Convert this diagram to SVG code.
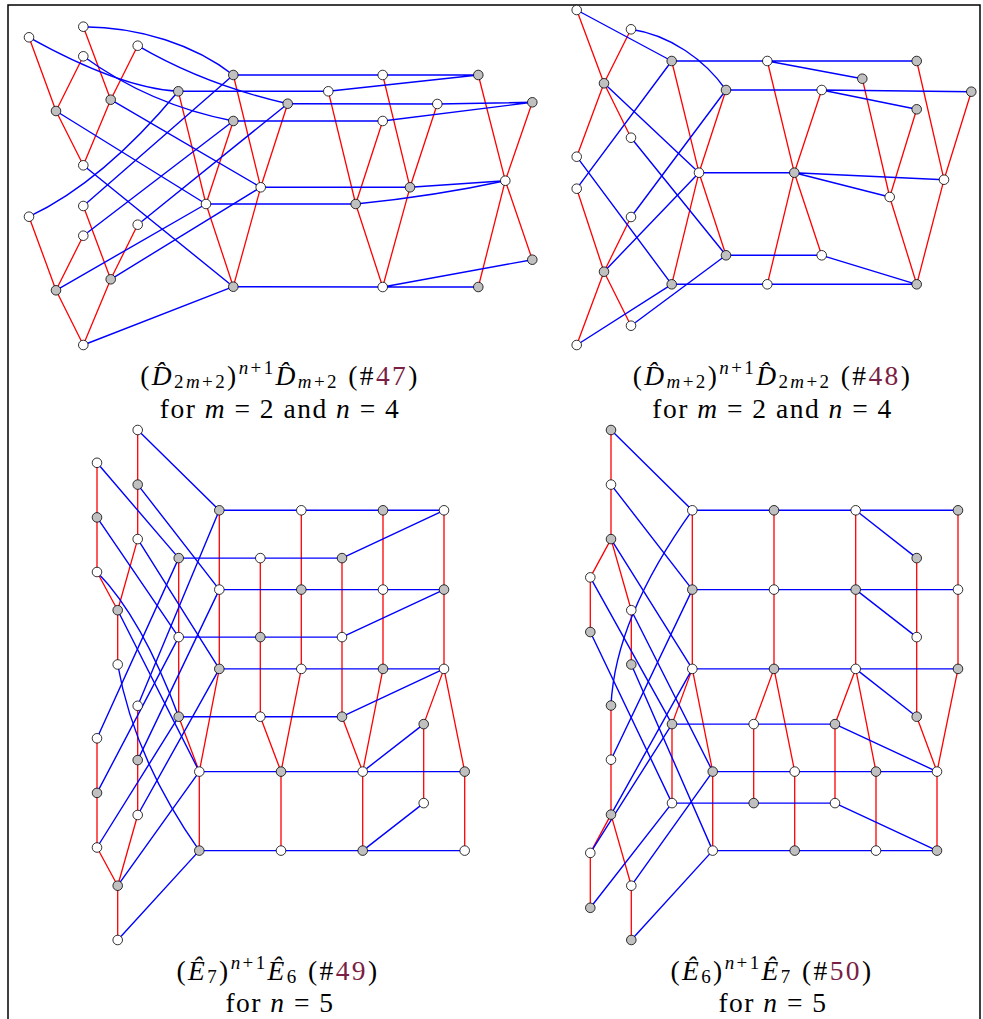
<svg xmlns="http://www.w3.org/2000/svg" width="983" height="1019" viewBox="0 0 983 1019">
<style>
.b{stroke:#0000ff;stroke-width:1.4;fill:none}
.r{stroke:#ff0000;stroke-width:1.3;fill:none}
.w{fill:#ffffff;stroke:#000;stroke-width:0.8}
.g{fill:#c0c0c0;stroke:#000;stroke-width:0.8}
.t{font-family:"Liberation Serif","DejaVu Serif",serif;font-size:27.5px;fill:#000;text-anchor:middle}
.m{letter-spacing:2.4px}
.p{letter-spacing:1.5px}
.h{letter-spacing:0px}
.i{font-style:italic}
.s{font-size:19px}
.lk{fill:#7a1f45}
</style>
<rect x="0" y="0" width="983" height="1019" fill="#fff"/>
<path d="M8,1019 V5 H980 V1019" fill="none" stroke="#000" stroke-width="1.5"/>

<!-- ================= TOP LEFT ================= -->
<g id="tl-connectors">
<g class="r">
<path d="M29,37.3L56,111M56,111L83.3,56.3M56,111L83.3,165.3M83.3,26.7L110.7,99.7M110.7,99.7L137.7,45.7M110.7,99.7L83.3,165.3"/>
<path d="M29,216.7L56,290.3M56,290.3L83.3,235.7M56,290.3L83.3,345M83.3,206L110.7,279.3M110.7,279.3L137.7,224.7M110.7,279.3L83.3,345"/>
<path d="M178.3,91.3L206,204M233.3,121L206,204M206,204L233.3,286.7M233.3,75L260.7,187.3M287.7,103.7L260.7,187.3M260.7,187.3L233.3,286.7"/>
<path d="M328.3,91.3L355.7,204M382.7,121L355.7,204M355.7,204L382.7,287M382.7,75L410,187.3M437.3,104L410,187.3M410,187.3L382.7,287"/>
<path d="M478.3,75L505.3,180.7M532.3,102.3L505.3,180.7M505.3,180.7L478.3,287M505.3,180.7L532.3,259.7"/>
</g>
<g class="b">
<path d="M29,37.3Q120,88 178.3,91.3"/>
<path d="M83.3,26.7C140,27 195,45 233.3,75"/>
<path d="M137.7,45.7Q205,85 287.7,103.7"/>
<path d="M83.3,56.3Q150,105 233.3,121"/>
<path d="M56,111L206,204M110.7,99.7L260.7,187.3M83.3,165.3L233.3,286.7"/>
<path d="M29,216.7Q103,182 178.3,91.3"/>
<path d="M83.3,206L233.3,75M83.3,235.7L233.3,121M137.7,224.7L287.7,103.7M56,290.3L206,204M110.7,279.3L260.7,187.3M83.3,345L233.3,286.7"/>
<path d="M178.3,91.3H328.3M233.3,75H382.7M233.3,121H382.7M287.7,103.7L437.3,104M206,204H355.7M260.7,187.3H410M233.3,286.7L382.7,287"/>
<path d="M328.3,91.3L478.3,75M382.7,75H478.3M437.3,104L532.3,102.3M382.7,121L532.3,102.3M410,187.3L505.3,180.7M382.7,287H478.3M382.7,287L532.3,259.7"/>
<path d="M355.7,204Q435,196 505.3,180.7"/>
</g>
</g>
<g id="tl-nodes">
<g id="tl1"><circle class="w" cx="29" cy="37.3" r="4.8"/></g>
<g id="tl2"><circle class="w" cx="83.3" cy="26.7" r="4.8"/></g>
<g id="tl3"><circle class="w" cx="137.7" cy="45.7" r="4.8"/></g>
<g id="tl4"><circle class="w" cx="83.3" cy="56.3" r="4.8"/></g>
<g id="tl5"><circle class="g" cx="56" cy="111" r="4.8"/></g>
<g id="tl6"><circle class="g" cx="110.7" cy="99.7" r="4.8"/></g>
<g id="tl7"><circle class="w" cx="83.3" cy="165.3" r="4.8"/></g>
<g id="tl8"><circle class="w" cx="29" cy="216.7" r="4.8"/></g>
<g id="tl9"><circle class="w" cx="83.3" cy="206" r="4.8"/></g>
<g id="tl10"><circle class="w" cx="83.3" cy="235.7" r="4.8"/></g>
<g id="tl11"><circle class="w" cx="137.7" cy="224.7" r="4.8"/></g>
<g id="tl12"><circle class="g" cx="56" cy="290.3" r="4.8"/></g>
<g id="tl13"><circle class="g" cx="110.7" cy="279.3" r="4.8"/></g>
<g id="tl14"><circle class="w" cx="83.3" cy="345" r="4.8"/></g>
<g id="tl15"><circle class="g" cx="178.3" cy="91.3" r="4.8"/></g>
<g id="tl16"><circle class="g" cx="233.3" cy="75" r="4.8"/></g>
<g id="tl17"><circle class="g" cx="233.3" cy="121" r="4.8"/></g>
<g id="tl18"><circle class="g" cx="287.7" cy="103.7" r="4.8"/></g>
<g id="tl19"><circle class="w" cx="206" cy="204" r="4.8"/></g>
<g id="tl20"><circle class="w" cx="260.7" cy="187.3" r="4.8"/></g>
<g id="tl21"><circle class="g" cx="233.3" cy="286.7" r="4.8"/></g>
<g id="tl22"><circle class="w" cx="328.3" cy="91.3" r="4.8"/></g>
<g id="tl23"><circle class="w" cx="382.7" cy="75" r="4.8"/></g>
<g id="tl24"><circle class="w" cx="437.3" cy="104" r="4.8"/></g>
<g id="tl25"><circle class="w" cx="382.7" cy="121" r="4.8"/></g>
<g id="tl26"><circle class="g" cx="410" cy="187.3" r="4.8"/></g>
<g id="tl27"><circle class="g" cx="355.7" cy="204" r="4.8"/></g>
<g id="tl28"><circle class="w" cx="382.7" cy="287" r="4.8"/></g>
<g id="tl29"><circle class="g" cx="478.3" cy="75" r="4.8"/></g>
<g id="tl30"><circle class="g" cx="532.3" cy="102.3" r="4.8"/></g>
<g id="tl31"><circle class="w" cx="505.3" cy="180.7" r="4.8"/></g>
<g id="tl32"><circle class="g" cx="478.3" cy="287" r="4.8"/></g>
<g id="tl33"><circle class="g" cx="532.3" cy="259.7" r="4.8"/></g>
</g>
<g id="tl-label">
<text class="t m" x="280" y="385">(<tspan class="i h">D&#x302;</tspan><tspan class="s" dx="2.4" dy="3">2<tspan class="i">m</tspan>+2</tspan><tspan dy="-3">)</tspan><tspan class="s" dy="-11"><tspan class="i">n</tspan>+1</tspan><tspan class="i h" dy="11">D&#x302;</tspan><tspan class="s" dx="2.4" dy="3"><tspan class="i">m</tspan>+2</tspan><tspan dy="-3"> (#</tspan><tspan class="lk">47</tspan>)</text>
<text class="t p" x="280" y="418">for <tspan class="i">m</tspan> = 2 and <tspan class="i">n</tspan> = 4</text>
</g>

<!-- ================= TOP RIGHT ================= -->
<g id="tr-connectors">
<g class="r">
<path d="M576.7,10L604,83.3M604,83.3L631,29.3M604,83.3L631,137.7M604,83.3L576.7,156.7"/>
<path d="M576.7,188.7L604,271.7M604,271.7L631,217M604,271.7L631,325.7M604,271.7L576.7,345"/>
<path d="M671.7,61L699,172.7M726,90L699,172.7M699,172.7L671.7,284.3M699,172.7L726,255.3"/>
<path d="M767.3,61L794.3,172.7M821.7,90L794.3,172.7M794.3,172.7L767.3,284.3M794.3,172.7L821.7,255.3"/>
<path d="M862.3,78.7L889.7,197M916.7,109.3L889.7,197M889.7,197L916.7,284.3M916.7,61L944,179.7M971.3,91.7L944,179.7M944,179.7L916.7,284.3"/>
</g>
<g class="b">
<path d="M576.7,10L671.7,61M604,83.3L699,172.7M631,137.7L726,255.3M576.7,156.7L671.7,284.3"/>
<path d="M631,29.3C670,35 705,60 726,90"/>
<path d="M576.7,188.7L671.7,61M631,217L726,90M604,271.7L699,172.7M631,325.7L726,255.3M576.7,345L671.7,284.3"/>
<path d="M671.7,61H767.3M726,90H821.7M699,172.7H794.3M726,255.3H821.7M671.7,284.3H767.3"/>
<path d="M767.3,61H916.7M767.3,61L862.3,78.7M821.7,90L971.3,91.7M821.7,90L916.7,109.3M794.3,172.7L944,179.7M794.3,172.7L889.7,197M821.7,255.3L916.7,284.3M767.3,284.3H916.7"/>
</g>
</g>
<g id="tr-nodes">
<g id="tr1"><circle class="w" cx="576.7" cy="10" r="4.8"/></g>
<g id="tr2"><circle class="w" cx="631" cy="29.3" r="4.8"/></g>
<g id="tr3"><circle class="g" cx="604" cy="83.3" r="4.8"/></g>
<g id="tr4"><circle class="w" cx="631" cy="137.7" r="4.8"/></g>
<g id="tr5"><circle class="w" cx="576.7" cy="156.7" r="4.8"/></g>
<g id="tr6"><circle class="w" cx="576.7" cy="188.7" r="4.8"/></g>
<g id="tr7"><circle class="w" cx="631" cy="217" r="4.8"/></g>
<g id="tr8"><circle class="g" cx="604" cy="271.7" r="4.8"/></g>
<g id="tr9"><circle class="w" cx="631" cy="325.7" r="4.8"/></g>
<g id="tr10"><circle class="w" cx="576.7" cy="345" r="4.8"/></g>
<g id="tr11"><circle class="g" cx="671.7" cy="61" r="4.8"/></g>
<g id="tr12"><circle class="g" cx="726" cy="90" r="4.8"/></g>
<g id="tr13"><circle class="w" cx="699" cy="172.7" r="4.8"/></g>
<g id="tr14"><circle class="g" cx="726" cy="255.3" r="4.8"/></g>
<g id="tr15"><circle class="g" cx="671.7" cy="284.3" r="4.8"/></g>
<g id="tr16"><circle class="w" cx="767.3" cy="61" r="4.8"/></g>
<g id="tr17"><circle class="w" cx="821.7" cy="90" r="4.8"/></g>
<g id="tr18"><circle class="g" cx="794.3" cy="172.7" r="4.8"/></g>
<g id="tr19"><circle class="w" cx="821.7" cy="255.3" r="4.8"/></g>
<g id="tr20"><circle class="w" cx="767.3" cy="284.3" r="4.8"/></g>
<g id="tr21"><circle class="g" cx="916.7" cy="61" r="4.8"/></g>
<g id="tr22"><circle class="g" cx="862.3" cy="78.7" r="4.8"/></g>
<g id="tr23"><circle class="g" cx="971.3" cy="91.7" r="4.8"/></g>
<g id="tr24"><circle class="g" cx="916.7" cy="109.3" r="4.8"/></g>
<g id="tr25"><circle class="w" cx="944" cy="179.7" r="4.8"/></g>
<g id="tr26"><circle class="w" cx="889.7" cy="197" r="4.8"/></g>
<g id="tr27"><circle class="g" cx="916.7" cy="284.3" r="4.8"/></g>
</g>
<g id="tr-label">
<text class="t m" x="772.5" y="385">(<tspan class="i h">D&#x302;</tspan><tspan class="s" dx="2.4" dy="3"><tspan class="i">m</tspan>+2</tspan><tspan dy="-3">)</tspan><tspan class="s" dy="-11"><tspan class="i">n</tspan>+1</tspan><tspan class="i h" dy="11">D&#x302;</tspan><tspan class="s" dx="2.4" dy="3">2<tspan class="i">m</tspan>+2</tspan><tspan dy="-3"> (#</tspan><tspan class="lk">48</tspan>)</text>
<text class="t p" x="772.5" y="418">for <tspan class="i">m</tspan> = 2 and <tspan class="i">n</tspan> = 4</text>
</g>

<!-- ================= BOTTOM LEFT ================= -->
<g id="bl-connectors">
<g class="r">
<path d="M137.7,430V539.1M97,462.8V572M97,572L117.7,610.2M137.7,539.1L117.7,610.2M117.7,610.2V664.5"/>
<path d="M137.7,705.8V815M97,738.3V847.5M97,847.5L117.7,885.7M137.7,815L117.7,885.7M117.7,885.7V940"/>
<path d="M219.3,510.3V668.9M178.7,558.1V716.7M178.7,716.7L199.3,771.6M219.3,668.9L199.3,771.6M199.3,771.6V850.6"/>
<path d="M301.3,510.3V668.9M260.3,558.1V716.7M260.3,716.7L281,771.6M301.3,668.9L281,771.6M281,771.6V850.6"/>
<path d="M383,510.3V668.9M342,558.1V716.7M342,716.7L362.7,771.6M383,668.9L362.7,771.6M362.7,771.6V850.6"/>
<path d="M444,510.3V668.9M444,668.9L423.7,724.1M423.7,724.1V803.1M444,668.9L464.7,771.6M464.7,771.6V850.6"/>
</g>
<g class="b">
<path d="M137.7,430L219.3,510.3M97,462.8L178.7,558.1M137.7,484.6L219.3,589.6M97,517.4L178.7,637.1M137.7,539.1L219.3,668.9M117.7,610.2L199.3,771.6"/>
<path d="M97,572Q142,618 178.7,716.7"/>
<path d="M117.7,664.5Q134,758 199.3,850.6"/>
<path d="M97,738.3L178.7,558.1M97,792.9L178.7,637.1M97,847.5L178.7,716.7M137.7,705.8L219.3,510.3M137.7,760.1L219.3,589.6M137.7,815L219.3,668.9M117.7,885.7L199.3,771.6M117.7,940L199.3,850.6"/>
<path d="M219.3,510.3H444M178.7,558.1H342M342,558.1L444,510.3M219.3,589.6H444M178.7,637.1H342M342,637.1L444,589.6M219.3,668.9H444M178.7,716.7H342M342,716.7L444,668.9"/>
<path d="M199.3,771.6H464.7M362.7,771.6L423.7,724.1M199.3,850.6H464.7M362.7,850.6L423.7,803.1"/>
</g>
</g>
<g id="bl-nodes">
<g id="bl1"><circle class="w" cx="137.7" cy="430" r="4.8"/></g>
<g id="bl2"><circle class="w" cx="97" cy="462.8" r="4.8"/></g>
<g id="bl3"><circle class="g" cx="137.7" cy="484.6" r="4.8"/></g>
<g id="bl4"><circle class="g" cx="97" cy="517.4" r="4.8"/></g>
<g id="bl5"><circle class="w" cx="137.7" cy="539.1" r="4.8"/></g>
<g id="bl6"><circle class="w" cx="97" cy="572" r="4.8"/></g>
<g id="bl7"><circle class="g" cx="117.7" cy="610.2" r="4.8"/></g>
<g id="bl8"><circle class="w" cx="117.7" cy="664.5" r="4.8"/></g>
<g id="bl9"><circle class="w" cx="137.7" cy="705.8" r="4.8"/></g>
<g id="bl10"><circle class="w" cx="97" cy="738.3" r="4.8"/></g>
<g id="bl11"><circle class="g" cx="137.7" cy="760.1" r="4.8"/></g>
<g id="bl12"><circle class="g" cx="97" cy="792.9" r="4.8"/></g>
<g id="bl13"><circle class="w" cx="137.7" cy="815" r="4.8"/></g>
<g id="bl14"><circle class="w" cx="97" cy="847.5" r="4.8"/></g>
<g id="bl15"><circle class="g" cx="117.7" cy="885.7" r="4.8"/></g>
<g id="bl16"><circle class="w" cx="117.7" cy="940" r="4.8"/></g>
<g id="bl17"><circle class="g" cx="219.3" cy="510.3" r="4.8"/></g>
<g id="bl18"><circle class="g" cx="178.7" cy="558.1" r="4.8"/></g>
<g id="bl19"><circle class="w" cx="219.3" cy="589.6" r="4.8"/></g>
<g id="bl20"><circle class="w" cx="178.7" cy="637.1" r="4.8"/></g>
<g id="bl21"><circle class="g" cx="219.3" cy="668.9" r="4.8"/></g>
<g id="bl22"><circle class="g" cx="178.7" cy="716.7" r="4.8"/></g>
<g id="bl23"><circle class="w" cx="199.3" cy="771.6" r="4.8"/></g>
<g id="bl24"><circle class="g" cx="199.3" cy="850.6" r="4.8"/></g>
<g id="bl25"><circle class="w" cx="301.3" cy="510.3" r="4.8"/></g>
<g id="bl26"><circle class="w" cx="260.3" cy="558.1" r="4.8"/></g>
<g id="bl27"><circle class="g" cx="301.3" cy="589.6" r="4.8"/></g>
<g id="bl28"><circle class="g" cx="260.3" cy="637.1" r="4.8"/></g>
<g id="bl29"><circle class="w" cx="301.3" cy="668.9" r="4.8"/></g>
<g id="bl30"><circle class="w" cx="260.3" cy="716.7" r="4.8"/></g>
<g id="bl31"><circle class="g" cx="281" cy="771.6" r="4.8"/></g>
<g id="bl32"><circle class="w" cx="281" cy="850.6" r="4.8"/></g>
<g id="bl33"><circle class="g" cx="383" cy="510.3" r="4.8"/></g>
<g id="bl34"><circle class="g" cx="342" cy="558.1" r="4.8"/></g>
<g id="bl35"><circle class="w" cx="383" cy="589.6" r="4.8"/></g>
<g id="bl36"><circle class="w" cx="342" cy="637.1" r="4.8"/></g>
<g id="bl37"><circle class="g" cx="383" cy="668.9" r="4.8"/></g>
<g id="bl38"><circle class="g" cx="342" cy="716.7" r="4.8"/></g>
<g id="bl39"><circle class="w" cx="362.7" cy="771.6" r="4.8"/></g>
<g id="bl40"><circle class="g" cx="362.7" cy="850.6" r="4.8"/></g>
<g id="bl41"><circle class="w" cx="444" cy="510.3" r="4.8"/></g>
<g id="bl42"><circle class="g" cx="444" cy="589.6" r="4.8"/></g>
<g id="bl43"><circle class="w" cx="444" cy="668.9" r="4.8"/></g>
<g id="bl44"><circle class="g" cx="423.7" cy="724.1" r="4.8"/></g>
<g id="bl45"><circle class="g" cx="464.7" cy="771.6" r="4.8"/></g>
<g id="bl46"><circle class="w" cx="423.7" cy="803.1" r="4.8"/></g>
<g id="bl47"><circle class="w" cx="464.7" cy="850.6" r="4.8"/></g>
</g>
<g id="bl-label">
<text class="t m" x="278" y="980">(<tspan class="i h">E&#x302;</tspan><tspan class="s" dx="2.4" dy="3">7</tspan><tspan dy="-3">)</tspan><tspan class="s" dy="-11"><tspan class="i">n</tspan>+1</tspan><tspan class="i h" dy="11">E&#x302;</tspan><tspan class="s" dx="2.4" dy="3">6</tspan><tspan dy="-3"> (#</tspan><tspan class="lk">49</tspan>)</text>
<text class="t p" x="280" y="1012">for <tspan class="i">n</tspan> = 5</text>
</g>

<!-- ================= BOTTOM RIGHT ================= -->
<g id="br-connectors">
<g class="r">
<path d="M611,430V539.1M611,539.1L590.3,577.4M590.3,577.4V632M611,539.1L631.3,610.2M631.3,610.2V664.5"/>
<path d="M611,705.5V814.6M611,814.6L590.3,852.9M590.3,852.9V907.8M611,814.6L631.3,885.7M631.3,885.7V940"/>
<path d="M692.3,510.3V668.9M692.3,668.9L672,724.1M672,724.1V803.1M692.3,668.9L712.7,771.6M712.7,771.6V850.6"/>
<path d="M774,510.3V668.9M774,668.9L753.7,724.1M753.7,724.1V803.1M774,668.9L794.7,771.6M794.7,771.6V850.6"/>
<path d="M855.7,510.3V668.9M855.7,668.9L835,724.1M835,724.1V803.1M855.7,668.9L876,771.6M876,771.6V850.6"/>
<path d="M958,510.3V668.9M958,668.9L937,771.6M916.7,558.1V716.7M916.7,716.7L937,771.6M937,771.6V850.6"/>
</g>
<g class="b">
<path d="M611,430L692.3,510.3M611,484.6L692.3,589.6M611,539.1L692.3,668.9M590.3,577.4L672,724.1M590.3,632L672,803.1M631.3,610.2L712.7,771.6M631.3,664.5L712.7,850.6"/>
<path d="M611,705.5Q615,618 692.3,510.3"/>
<path d="M611,759.7L692.3,589.6M611,814.6L692.3,668.9M590.3,852.9L672,724.1M590.3,907.8L672,803.1M631.3,885.7L712.7,771.6M631.3,940L712.7,850.6"/>
<path d="M692.3,510.3H958M855.7,510.3L916.7,558.1M692.3,589.6H958M855.7,589.6L916.7,637.1M692.3,668.9H958M855.7,668.9L916.7,716.7"/>
<path d="M672,724.1H835M835,724.1L937,771.6M712.7,771.6H937M672,803.1H835M835,803.1L937,850.6M712.7,850.6H937"/>
</g>
</g>
<g id="br-nodes">
<g id="br1"><circle class="g" cx="611" cy="430" r="4.8"/></g>
<g id="br2"><circle class="w" cx="611" cy="484.6" r="4.8"/></g>
<g id="br3"><circle class="g" cx="611" cy="539.1" r="4.8"/></g>
<g id="br4"><circle class="w" cx="590.3" cy="577.4" r="4.8"/></g>
<g id="br5"><circle class="w" cx="631.3" cy="610.2" r="4.8"/></g>
<g id="br6"><circle class="g" cx="590.3" cy="632" r="4.8"/></g>
<g id="br7"><circle class="g" cx="631.3" cy="664.5" r="4.8"/></g>
<g id="br8"><circle class="g" cx="611" cy="705.5" r="4.8"/></g>
<g id="br9"><circle class="w" cx="611" cy="759.7" r="4.8"/></g>
<g id="br10"><circle class="g" cx="611" cy="814.6" r="4.8"/></g>
<g id="br11"><circle class="w" cx="590.3" cy="852.9" r="4.8"/></g>
<g id="br12"><circle class="w" cx="631.3" cy="885.7" r="4.8"/></g>
<g id="br13"><circle class="g" cx="590.3" cy="907.8" r="4.8"/></g>
<g id="br14"><circle class="g" cx="631.3" cy="940" r="4.8"/></g>
<g id="br15"><circle class="w" cx="692.3" cy="510.3" r="4.8"/></g>
<g id="br16"><circle class="g" cx="692.3" cy="589.6" r="4.8"/></g>
<g id="br17"><circle class="w" cx="692.3" cy="668.9" r="4.8"/></g>
<g id="br18"><circle class="g" cx="672" cy="724.1" r="4.8"/></g>
<g id="br19"><circle class="w" cx="672" cy="803.1" r="4.8"/></g>
<g id="br20"><circle class="g" cx="712.7" cy="771.6" r="4.8"/></g>
<g id="br21"><circle class="w" cx="712.7" cy="850.6" r="4.8"/></g>
<g id="br22"><circle class="g" cx="774" cy="510.3" r="4.8"/></g>
<g id="br23"><circle class="w" cx="774" cy="589.6" r="4.8"/></g>
<g id="br24"><circle class="g" cx="774" cy="668.9" r="4.8"/></g>
<g id="br25"><circle class="w" cx="753.7" cy="724.1" r="4.8"/></g>
<g id="br26"><circle class="g" cx="753.7" cy="803.1" r="4.8"/></g>
<g id="br27"><circle class="w" cx="794.7" cy="771.6" r="4.8"/></g>
<g id="br28"><circle class="g" cx="794.7" cy="850.6" r="4.8"/></g>
<g id="br29"><circle class="w" cx="855.7" cy="510.3" r="4.8"/></g>
<g id="br30"><circle class="g" cx="855.7" cy="589.6" r="4.8"/></g>
<g id="br31"><circle class="w" cx="855.7" cy="668.9" r="4.8"/></g>
<g id="br32"><circle class="g" cx="835" cy="724.1" r="4.8"/></g>
<g id="br33"><circle class="w" cx="835" cy="803.1" r="4.8"/></g>
<g id="br34"><circle class="g" cx="876" cy="771.6" r="4.8"/></g>
<g id="br35"><circle class="w" cx="876" cy="850.6" r="4.8"/></g>
<g id="br36"><circle class="g" cx="958" cy="510.3" r="4.8"/></g>
<g id="br37"><circle class="w" cx="958" cy="589.6" r="4.8"/></g>
<g id="br38"><circle class="g" cx="958" cy="668.9" r="4.8"/></g>
<g id="br39"><circle class="g" cx="916.7" cy="558.1" r="4.8"/></g>
<g id="br40"><circle class="w" cx="916.7" cy="637.1" r="4.8"/></g>
<g id="br41"><circle class="g" cx="916.7" cy="716.7" r="4.8"/></g>
<g id="br42"><circle class="w" cx="937" cy="771.6" r="4.8"/></g>
<g id="br43"><circle class="g" cx="937" cy="850.6" r="4.8"/></g>
</g>
<g id="br-label">
<text class="t m" x="772" y="980">(<tspan class="i h">E&#x302;</tspan><tspan class="s" dx="2.4" dy="3">6</tspan><tspan dy="-3">)</tspan><tspan class="s" dy="-11"><tspan class="i">n</tspan>+1</tspan><tspan class="i h" dy="11">E&#x302;</tspan><tspan class="s" dx="2.4" dy="3">7</tspan><tspan dy="-3"> (#</tspan><tspan class="lk">50</tspan>)</text>
<text class="t p" x="773" y="1012">for <tspan class="i">n</tspan> = 5</text>
</g>
</svg>
